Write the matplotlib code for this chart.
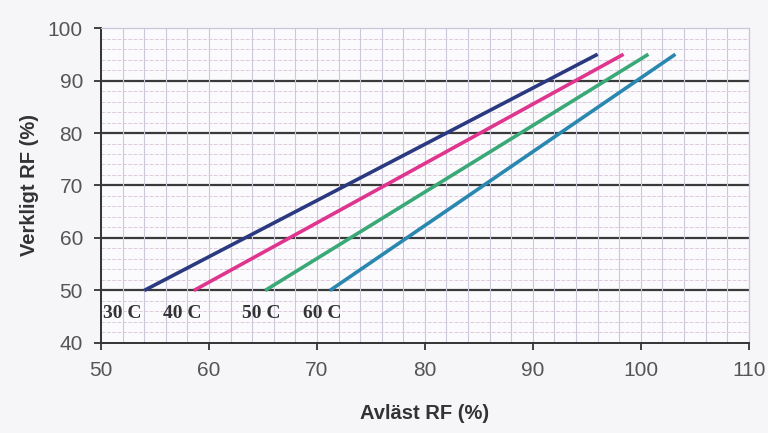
import numpy as np
import matplotlib
matplotlib.use("Agg")
import matplotlib.pyplot as plt
from matplotlib.ticker import MultipleLocator

plt.rcParams["font.family"] = ["Liberation Sans", "DejaVu Sans"]

# curves: read RF (x) vs real RF (y), straight lines 50 -> 95
labels = ["30 C", "40 C", "50 C", "60 C"]
x_start = [54.0, 58.6, 65.2, 71.2]
x_end = [96.0, 98.4, 100.7, 103.2]
y_vals = [50, 95]
colors = ["#2b3a80", "#e0358e", "#3aa877", "#2a87b0"]
label_x = [50.2, 55.7, 63.1, 68.7]
label_y = 45.6

fig = plt.figure(figsize=(7.68, 4.33), dpi=100, facecolor="#f6f6f9")
ax = fig.add_axes([0.1315, 0.2079, 0.8435, 0.7274])
ax.set_facecolor("#fbfbfd")

ax.set_xlim(50, 110)
ax.set_ylim(40, 100)
ax.xaxis.set_major_locator(MultipleLocator(10))
ax.yaxis.set_major_locator(MultipleLocator(10))
ax.xaxis.set_minor_locator(MultipleLocator(2))
ax.yaxis.set_minor_locator(MultipleLocator(2))

# light graph-paper grid
ax.grid(which="minor", axis="x", color="#cbc8db", lw=0.8)
ax.grid(which="minor", axis="y", color="#dccbdc", lw=0.7, ls=(0, (4, 1.5)))
ax.grid(which="major", axis="x", color="#cbc8db", lw=0.8)
for yv in [50, 60, 70, 80, 90]:
    ax.axhline(yv, color="#3a3a3a", lw=1.6, zorder=1.5)

for i in range(4):
    ax.plot([x_start[i], x_end[i]], y_vals, color=colors[i], lw=2.6,
            solid_capstyle="butt", zorder=3)
    ax.text(label_x[i], label_y, labels[i], fontsize=14, fontweight="bold",
            family="Liberation Serif", color="#333333", va="center", ha="left")

for s in ["top", "right"]:
    ax.spines[s].set_color("#c9c6da")
    ax.spines[s].set_linewidth(0.9)
for s in ["left", "bottom"]:
    ax.spines[s].set_color("#333333")
    ax.spines[s].set_linewidth(1.4)

ax.tick_params(which="minor", length=0)
ax.tick_params(which="major", direction="out", length=5, width=1.3,
               color="#333333", labelsize=15, labelcolor="#555555", pad=8)

ax.set_xlabel("Avläst RF (%)", fontsize=14.5, fontweight="bold", color="#333333", labelpad=17)
ax.set_ylabel("Verkligt RF (%)", fontsize=14.5, fontweight="bold", color="#333333", labelpad=6)

fig.savefig("out.png", dpi=100, facecolor=fig.get_facecolor())
